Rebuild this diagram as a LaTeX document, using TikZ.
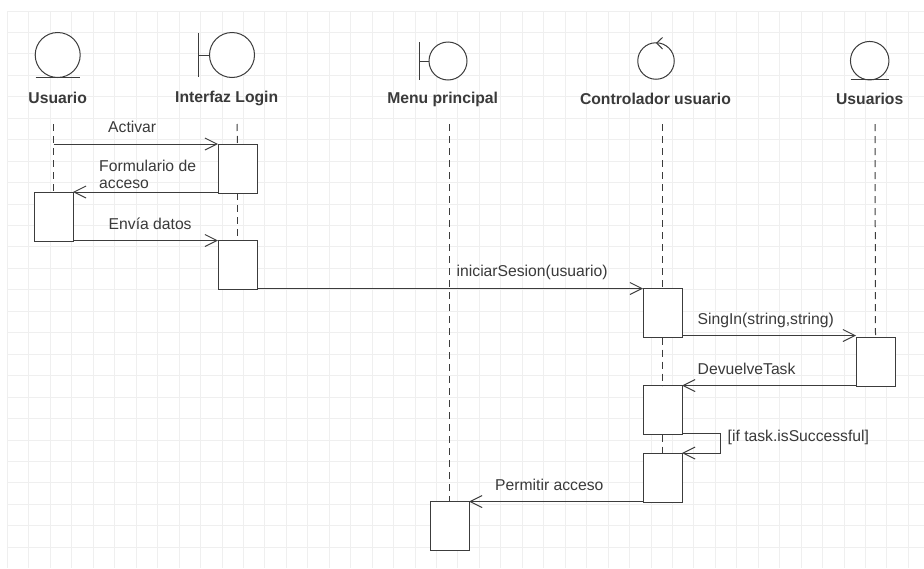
\documentclass[tikz,border=0pt]{standalone}
\usepackage{fontspec}
\setmainfont{Liberation Sans}
\usetikzlibrary{arrows.meta}
\definecolor{ink}{HTML}{3C3C3C}
\definecolor{txt}{HTML}{3A3A3A}
\definecolor{gridc}{HTML}{EFEFEF}
\tikzset{
  gridline/.style={gridc,line width=1pt},
  ent/.style={circle,draw=ink,line width=1pt,inner sep=0pt,fill=white,outer sep=0pt},
  sym/.style={draw=ink,line width=1pt},
  title/.style={font=\fontsize{15.7}{17}\selectfont\bfseries,text=txt,inner sep=0pt,anchor=center},
  msg/.style={font=\fontsize{15.7}{17}\selectfont,text=txt,inner sep=0pt,anchor=west,align=left},
  life/.style={draw=ink,line width=1pt,dash pattern=on 7pt off 5pt},
  act/.style={draw=ink,line width=1pt,fill=white,minimum width=39pt,minimum height=49pt,inner sep=0pt,outer sep=0pt,anchor=north west},
  call/.style={draw=ink,line width=1pt,-{Straight Barb[length=12pt,width=12pt,line width=1pt]}},
}
\begin{document}
\begin{tikzpicture}[x=1pt,y=-1pt]
\useasboundingbox (0,0) rectangle (924,568);
\fill[white] (0,0) rectangle (924,568);
% grid
\foreach \i in {0,...,42}{\draw[gridline] ({7.5+21.45*\i},11) -- ({7.5+21.45*\i},568);}
\foreach \i in {0,...,25}{\draw[gridline] (7,{11+21.45*\i}) -- (924,{11+21.45*\i});}
% lifeline ends
\coordinate (uTop) at (53.5,124);
\coordinate (lTop) at (237,124);
\coordinate (mTop) at (449.5,124);
\coordinate (cTop) at (662.5,124);
\coordinate (dTop) at (875,124);
% activation boxes
\node[act] (aL1) at (218,144) {};
\node[act] (aU1) at (34,192) {};
\node[act] (aL2) at (218,240.5) {};
\node[act] (aC1) at (643,288.5) {};
\node[act] (aD1) at (856,337) {};
\node[act] (aC2) at (643,385.5) {};
\node[act] (aC3) at (643,453) {};
\node[act] (aM1) at (430,501.5) {};
% lifelines
\draw[life] (uTop) -- (aU1.north);
\draw[life] (lTop) -- (aL1.north);
\draw[life] (aL1.south) -- (aL2.north);
\draw[life] (mTop) -- (aM1.north);
\draw[life] (cTop) -- (aC1.north);
\draw[life] (aC1.south) -- (aC2.north);
\draw[life] (aC2.south) -- (aC3.north);
\draw[life] (dTop) -- (aD1.north);
% symbols
\node[ent,minimum size=45pt] (sU) at (57.7,55) {};
\draw[sym] (35.5,77.8) -- (80,77.8);
\node[ent,minimum size=45pt] (sL) at (232,55) {};
\coordinate (bL) at (198.7,55);
\draw[sym] (198.7,33) -- (198.7,77);
\draw[sym] (bL) -- (sL.west);
\node[ent,minimum size=38pt] (sM) at (448,61) {};
\coordinate (bM) at (419.3,61);
\draw[sym] (419.3,42) -- (419.3,80);
\draw[sym] (bM) -- (sM.west);
\node[ent,minimum size=36.5pt] (sC) at (656,61) {};
\draw[sym] (662.5,37.5) -- (656.7,43) -- (662.5,49);
\node[ent,minimum size=38.5pt] (sD) at (869.7,60.7) {};
\draw[sym] (850.7,79.8) -- (888.7,79.8);
% titles
\node[title] (tU) at (57.7,98) {Usuario};
\node[title] (tL) at (226.7,98) {Interfaz Login};
\node[title] (tM) at (442.7,99) {Menu principal};
\node[title] (tC) at (655.5,99) {Controlador usuario};
\node[title] (tD) at (869.7,99) {Usuarios};
% messages
\coordinate (aStart) at (53.5,144);
\draw[call] (aStart) -- (aL1.north west);
\draw[call] ([yshift=1pt]aL1.south west) -- (aU1.north east);
\draw[call] ([yshift=0.5pt]aU1.south east) -- (aL2.north west);
\draw[call] ([yshift=1pt]aL2.south east) -- (aC1.north west);
\draw[call] ([yshift=2pt]aC1.south east) -- ([yshift=1.5pt]aD1.north west);
\draw[call] ([yshift=0.5pt]aD1.south west) -- (aC2.north east);
\draw[call] ([yshift=1pt]aC2.south east) -- ++(38,0) |- (aC3.north east);
\draw[call] ([yshift=0.5pt]aC3.south west) -- (aM1.north east);
\node[msg] (m1) at (108,127) {Activar};
\node[msg] (m2) at (99,174.5) {Formulario de\\acceso};
\node[msg] (m3) at (108.5,224) {Envía datos};
\node[msg] (m4) at (456.5,272) {iniciarSesion(usuario)};
\node[msg] (m5) at (697.5,320) {SingIn(string,string)};
\node[msg] (m6) at (697.5,369) {DevuelveTask};
\node[msg] (m7) at (727.5,437) {[if task.isSuccessful]};
\node[msg] (m8) at (495,485) {Permitir acceso};
\end{tikzpicture}
\end{document}
